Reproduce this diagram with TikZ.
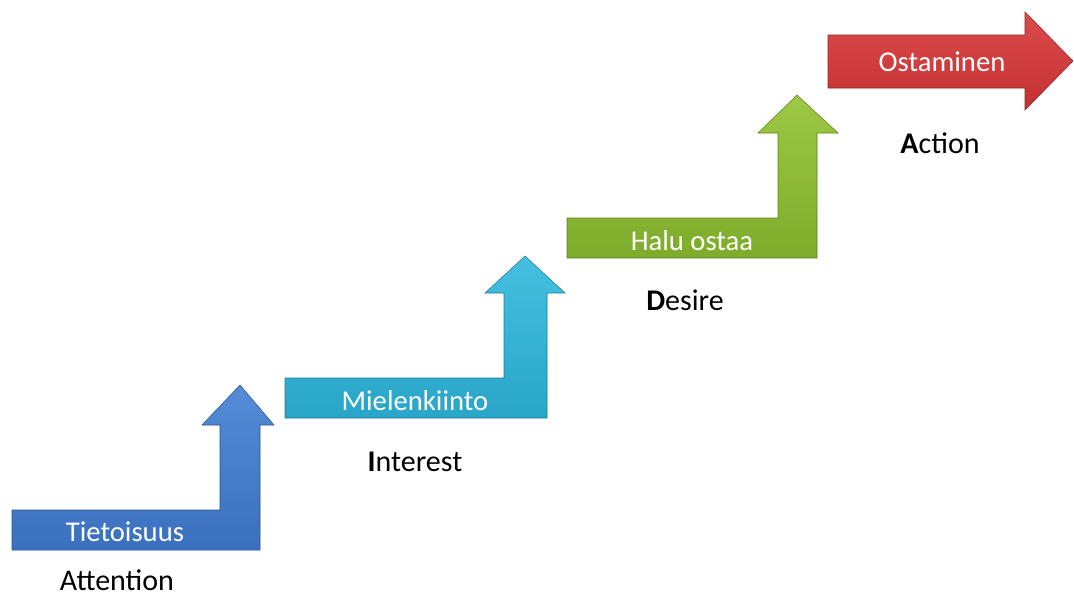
\documentclass[tikz,border=0pt]{standalone}
\usepackage{fontspec}
\setmainfont{Carlito}
\usepackage{tikz}
\usetikzlibrary{positioning}
\definecolor{bluetop}{RGB}{85,140,215}
\definecolor{bluebot}{RGB}{58,112,190}
\definecolor{cyantop}{RGB}{70,192,225}
\definecolor{cyanbot}{RGB}{40,165,200}
\definecolor{greentop}{RGB}{158,200,70}
\definecolor{greenbot}{RGB}{125,172,42}
\definecolor{redtop}{RGB}{220,75,75}
\definecolor{redbot}{RGB}{195,48,50}
\tikzset{
  stair/.style n args={2}{top color=#1,bottom color=#2,draw=#2!75!black,line width=0.4pt},
  inlabel/.style={text=white,font=\fontsize{21.5}{24}\selectfont,inner sep=0pt},
  stage/.style={text=black,font=\fontsize{22.5}{26}\selectfont,inner sep=0pt}
}
\begin{document}
\begin{tikzpicture}[x=0.75pt,y=-0.75pt]
  \useasboundingbox (0,0) rectangle (1074,597);
  % Attention
  \path[stair={bluetop}{bluebot}] (12,510) -- (220,510) -- (220,425) -- (202,425)
    -- (240,385) -- (274,425) -- (260,425) -- (260,550) -- (12,550) -- cycle;
  \node[inlabel] (tieto) at (125,532) {Tietoisuus};
  \node[stage] (att) at (117,580) {Attention};
  % Interest
  \path[stair={cyantop}{cyanbot}] (285,378) -- (504,378) -- (504,293) -- (485,293)
    -- (525,256) -- (565,293) -- (547,293) -- (547,418) -- (285,418) -- cycle;
  \node[inlabel] (miel) at (415,401) {Mielenkiinto};
  \node[stage] (int) at (415,462) {\textbf{I}nterest};
  % Desire
  \path[stair={greentop}{greenbot}] (567,218) -- (778,218) -- (778,133) -- (758,133)
    -- (797,95) -- (838,133) -- (817,133) -- (817,258) -- (567,258) -- cycle;
  \node[inlabel] (halu) at (692,241) {Halu ostaa};
  \node[stage] (des) at (685,300) {\textbf{D}esire};
  % Action
  \path[stair={redtop}{redbot}] (828,35) -- (1025,35) -- (1025,12) -- (1073,61)
    -- (1025,110) -- (1025,88) -- (828,88) -- cycle;
  \node[inlabel] (osta) at (942,62) {Ostaminen};
  \node[stage] (act) at (940,143) {\textbf{A}ction};
\end{tikzpicture}
\end{document}
